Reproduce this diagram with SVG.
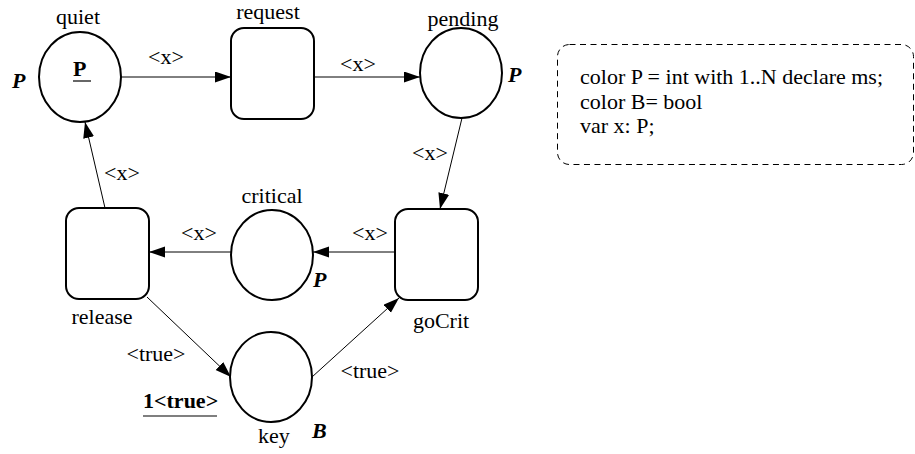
<svg xmlns="http://www.w3.org/2000/svg" width="915" height="454" viewBox="0 0 915 454">
  <style>
    text { font-family: "Liberation Serif", "Times New Roman", serif; font-size: 22px; fill: #000; }
    .mid { text-anchor: middle; }
    .type { font-weight: bold; font-style: italic; }
    .tok { font-weight: bold; }
    .place { fill: #fff; stroke: #000; stroke-width: 2; }
    .trans { fill: #fff; stroke: #000; stroke-width: 2; }
    .arc { fill: none; stroke: #000; stroke-width: 1; marker-end: url(#head); }
    .uline { stroke: #000; stroke-width: 1.2; }
    .decl { fill: none; stroke: #000; stroke-width: 1; stroke-dasharray: 6 4.5; }
  </style>
  <defs>
    <marker id="head" markerUnits="userSpaceOnUse" markerWidth="17" markerHeight="12" refX="16" refY="5.5" orient="auto">
      <path d="M0,0 L16,5.5 L0,11 Z" fill="#000"/>
    </marker>
  </defs>

  <rect width="915" height="454" fill="#fff"/>

  <!-- arcs with their inscriptions -->
  <g id="arcs">
    <line class="arc" x1="121" y1="77" x2="231" y2="77"/>
    <line class="arc" x1="314" y1="77" x2="420" y2="77"/>
    <line class="arc" x1="462" y1="118" x2="440" y2="209"/>
    <line class="arc" x1="395" y1="252" x2="313" y2="252"/>
    <line class="arc" x1="231" y1="252" x2="149" y2="252"/>
    <line class="arc" x1="105" y1="208" x2="85" y2="122"/>
    <line class="arc" x1="147" y1="297" x2="231" y2="377"/>
    <line class="arc" x1="312" y1="377" x2="399" y2="298"/>
    <text class="mid" x="166" y="64">&lt;x&gt;</text>
    <text class="mid" x="358" y="71">&lt;x&gt;</text>
    <text class="mid" x="430" y="160">&lt;x&gt;</text>
    <text class="mid" x="122" y="180">&lt;x&gt;</text>
    <text class="mid" x="199" y="240">&lt;x&gt;</text>
    <text class="mid" x="370" y="240">&lt;x&gt;</text>
    <text class="mid" x="156" y="361">&lt;true&gt;</text>
    <text class="mid" x="370" y="378">&lt;true&gt;</text>
  </g>

  <!-- places -->
  <g id="quiet">
    <ellipse class="place" cx="80" cy="77" rx="41" ry="45"/>
    <text class="mid" x="78" y="24">quiet</text>
    <text class="type" x="12" y="88">P</text>
    <text class="tok" x="73" y="76">P</text>
    <line class="uline" x1="73" y1="81" x2="91" y2="81"/>
  </g>
  <g id="pending">
    <ellipse class="place" cx="461" cy="73" rx="41" ry="45"/>
    <text class="mid" x="463" y="26">pending</text>
    <text class="type" x="508" y="82">P</text>
  </g>
  <g id="critical">
    <ellipse class="place" cx="272" cy="255" rx="41" ry="45"/>
    <text class="mid" x="272" y="203">critical</text>
    <text class="type" x="313" y="287">P</text>
  </g>
  <g id="key">
    <ellipse class="place" cx="271" cy="377" rx="41" ry="45"/>
    <text class="mid" x="274" y="443">key</text>
    <text class="type" x="312" y="438">B</text>
    <text class="tok" x="143" y="408">1&lt;true&gt;</text>
    <line class="uline" x1="143" y1="416" x2="217" y2="416"/>
  </g>

  <!-- transitions -->
  <g id="request">
    <rect class="trans" x="231" y="28" width="83" height="91" rx="13"/>
    <text class="mid" x="268" y="19">request</text>
  </g>
  <g id="goCrit">
    <rect class="trans" x="395" y="209" width="83" height="91" rx="13"/>
    <text class="mid" x="441" y="328">goCrit</text>
  </g>
  <g id="release">
    <rect class="trans" x="66" y="208" width="83" height="91" rx="13"/>
    <text class="mid" x="102" y="324">release</text>
  </g>

  <!-- colour set and variable declarations -->
  <g id="declarations">
    <rect class="decl" x="557.5" y="44.5" width="356" height="120" rx="12"/>
    <text x="580" y="84">color P = int with 1..N declare ms;</text>
    <text x="580" y="108.5">color B= bool</text>
    <text x="580" y="133">var x: P;</text>
  </g>
</svg>
